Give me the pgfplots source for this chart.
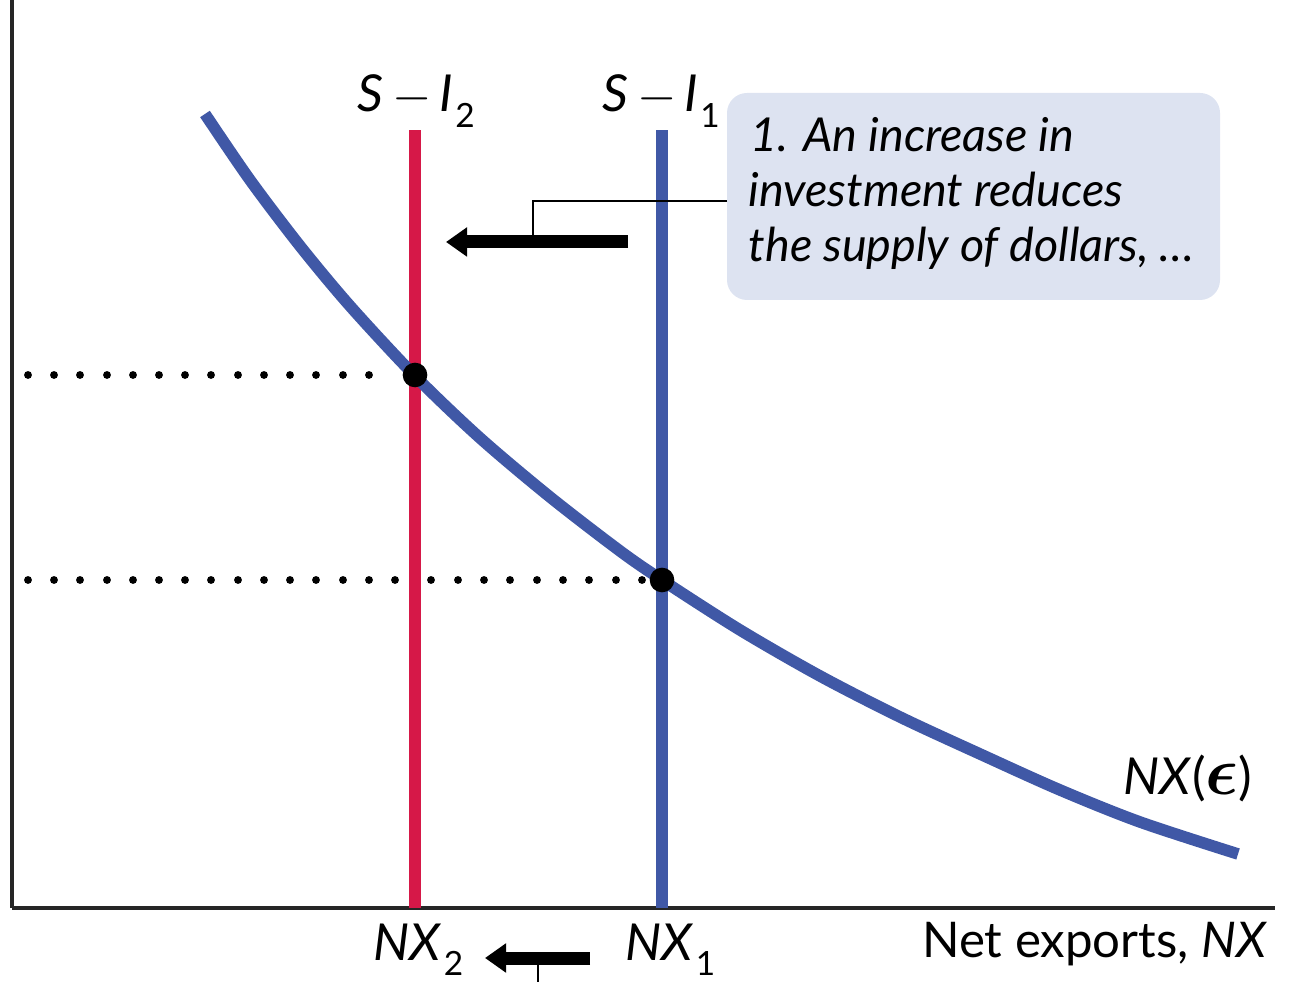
\documentclass[border=0pt]{standalone}
\usepackage{fontspec}
\setmainfont{Lato}
\usepackage{amsmath}
\usepackage{graphicx}
\usepackage{pgfplots}
\pgfplotsset{compat=1.18}
\usetikzlibrary{arrows.meta}

\definecolor{nxblue}{RGB}{64,88,166}
\definecolor{sired}{RGB}{214,24,72}
\definecolor{boxfill}{RGB}{221,227,241}

% lowered subscript, as in the figure
\newcommand\sub[1]{\kern0.5pt\raisebox{-4.5pt}{\fontsize{9.5}{10}\selectfont #1}}

% NX(eps) curve (x right, y up)
\pgfplotstableread{
x y
205 868
250 802
300 736
350 676
415 606
480 544
550 485
620 431
662 402
740 352
820 306
900 265
980 228
1060 192
1140 160
1238 128
}\nxcurve

\begin{document}
\begin{tikzpicture}
\begin{axis}[
    at={(0,0)}, anchor=south west,
    scale only axis,
    width=126.3mm, height=90.8mm,
    xmin=12, xmax=1275, ymin=74, ymax=982,
    axis lines=left,
    axis line style={-, line width=0.9pt, black!85},
    ticks=none,
    clip=false,
]
% dotted guides
\addplot[only marks, mark=*, mark size=0.9pt, black] coordinates {
    (28,607) (54,607) (80,607) (107,607) (133,607) (159,607) (185,607)
    (211,607) (238,607) (264,607) (290,607) (316,607) (343,607) (369,607)
};
\addplot[only marks, mark=*, mark size=0.9pt, black] coordinates {
    (28,402) (54,402) (80,402) (107,402) (133,402) (159,402) (185,402)
    (211,402) (238,402) (264,402) (290,402) (316,402) (343,402) (369,402)
    (395,402) (431,402) (458,402) (484,402) (510,402) (537,402) (563,402)
    (589,402) (616,402) (642,402)
};
% S - I lines
\addplot[sired, line width=3.3pt] coordinates {(415,74) (415,852)};
\addplot[nxblue, line width=3.3pt] coordinates {(662,74) (662,852)};
% NX curve
\addplot[nxblue, line width=3.3pt, smooth] table {\nxcurve};
% equilibria
\addplot[only marks, mark=*, mark size=3.3pt, black] coordinates {(415,607) (662,402)};

% labels
\node[anchor=base west, font=\fontsize{14.5}{18}\selectfont, inner sep=0pt]
    at (axis cs:357,870) {\textit{S}\,$-$\,\textit{I}\sub{2}};
\node[anchor=base west, font=\fontsize{14.5}{18}\selectfont, inner sep=0pt]
    at (axis cs:602,870) {\textit{S}\,$-$\,\textit{I}\sub{1}};
\node[anchor=base west, font=\fontsize{14.5}{18}\selectfont, inner sep=0pt]
    at (axis cs:373,22) {\textit{NX}\sub{2}};
\node[anchor=base west, font=\fontsize{14.5}{18}\selectfont, inner sep=0pt]
    at (axis cs:625,22) {\textit{NX}\sub{1}};
\node[anchor=base east, font=\fontsize{14}{18}\selectfont, inner sep=0pt]
    at (axis cs:1268,25) {Net exports, \textit{NX}};
\node[anchor=base west, font=\fontsize{14.5}{18}\selectfont, inner sep=0pt]
    at (axis cs:1123,187) {\textit{NX}(\scalebox{1.35}{$\boldsymbol{\epsilon}$})};

% annotation box
\fill[boxfill, rounded corners=2mm] (axis cs:727,889) rectangle (axis cs:1220,682);
\node[anchor=base west, font=\fontsize{13.3}{17}\selectfont\itshape, inner sep=0pt]
    at (axis cs:750,830) {1. An increase in};
\node[anchor=base west, font=\fontsize{13.3}{17}\selectfont\itshape, inner sep=0pt]
    at (axis cs:748,775) {investment reduces};
\node[anchor=base west, font=\fontsize{13.3}{17}\selectfont\itshape, inner sep=0pt]
    at (axis cs:748,720) {the supply of dollars, \dots};
\draw[line width=0.6pt] (axis cs:727,781) -- (axis cs:533,781) -- (axis cs:533,740);
\draw[line width=3.7pt, -{Triangle[length=2.1mm, width=2.8mm]}]
    (axis cs:628,740) -- (axis cs:446,740);

% shift arrow under the axis
\draw[line width=0.6pt] (axis cs:538,24) -- (axis cs:538,0);
\draw[line width=3.7pt, -{Triangle[length=2.1mm, width=2.8mm]}]
    (axis cs:590,24) -- (axis cs:485,24);
\end{axis}
\pgfresetboundingbox
\path[use as bounding box] (-1.2mm,-7.4mm) rectangle (128.2mm,90.8mm);
\end{tikzpicture}
\end{document}
